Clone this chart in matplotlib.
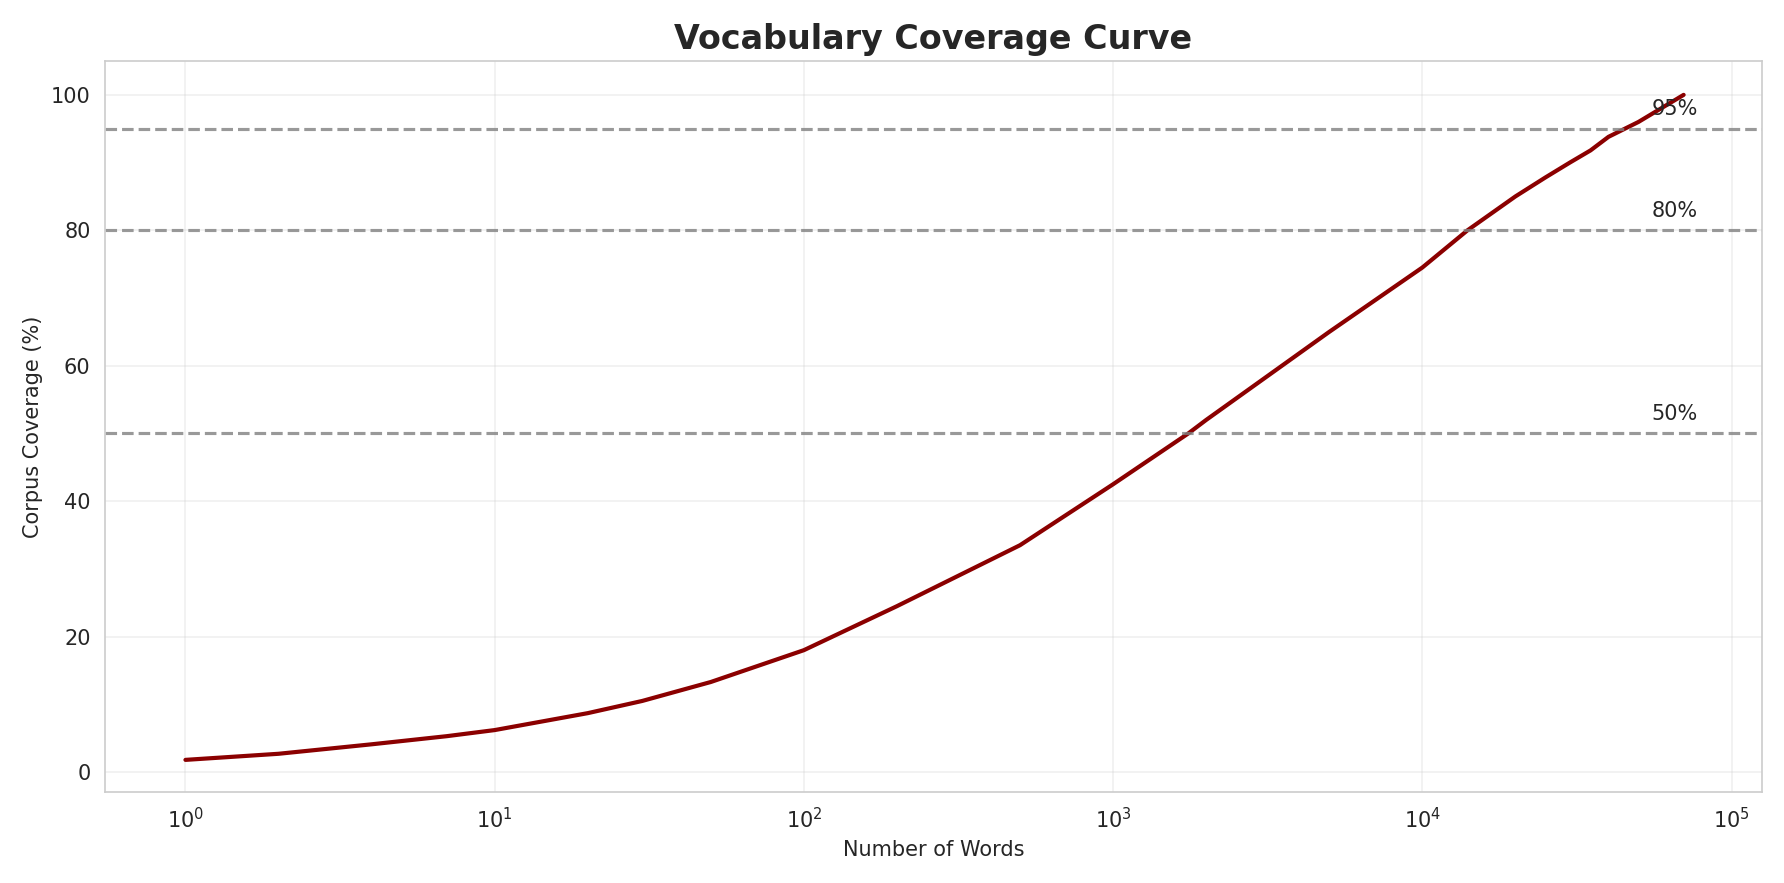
import matplotlib
matplotlib.use("Agg")
import matplotlib.pyplot as plt
import seaborn as sns

sns.set_style("whitegrid")

# values
num_words = [1, 2, 4, 7, 10, 20, 30, 50, 100, 200, 500, 1000, 1750, 2000, 5000,
             10000, 14000, 20000, 25000, 30000, 35000, 40000, 50000, 70000]
coverage = [1.8, 2.7, 4.1, 5.3, 6.2, 8.7, 10.5, 13.3, 18.0, 24.5, 33.5, 42.5, 50.0,
            52.0, 65.0, 74.5, 80.0, 85.0, 87.8, 90.0, 91.8, 93.8, 96.0, 100.0]
thresholds = [50, 80, 95]
label_x = 55000

fig, ax = plt.subplots(figsize=(17.84 / 1.5, 8.83 / 1.5), dpi=150)
ax.plot(num_words, coverage, color="darkred", linewidth=2)
ax.set_xscale("log")

for t in thresholds:
    ax.axhline(t, color="gray", linestyle="--", alpha=0.8, linewidth=1.5)
    ax.text(label_x, t + 2, f"{t}%", fontsize=10)

ax.set_xlim(0.55, 1.25e5)
ax.set_ylim(-3, 105)
ax.grid(alpha=0.3)
ax.set_xlabel("Number of Words")
ax.set_ylabel("Corpus Coverage (%)")
ax.set_title("Vocabulary Coverage Curve", fontsize=16, fontweight="bold")
plt.tight_layout()
plt.savefig("out.png", dpi=150)
